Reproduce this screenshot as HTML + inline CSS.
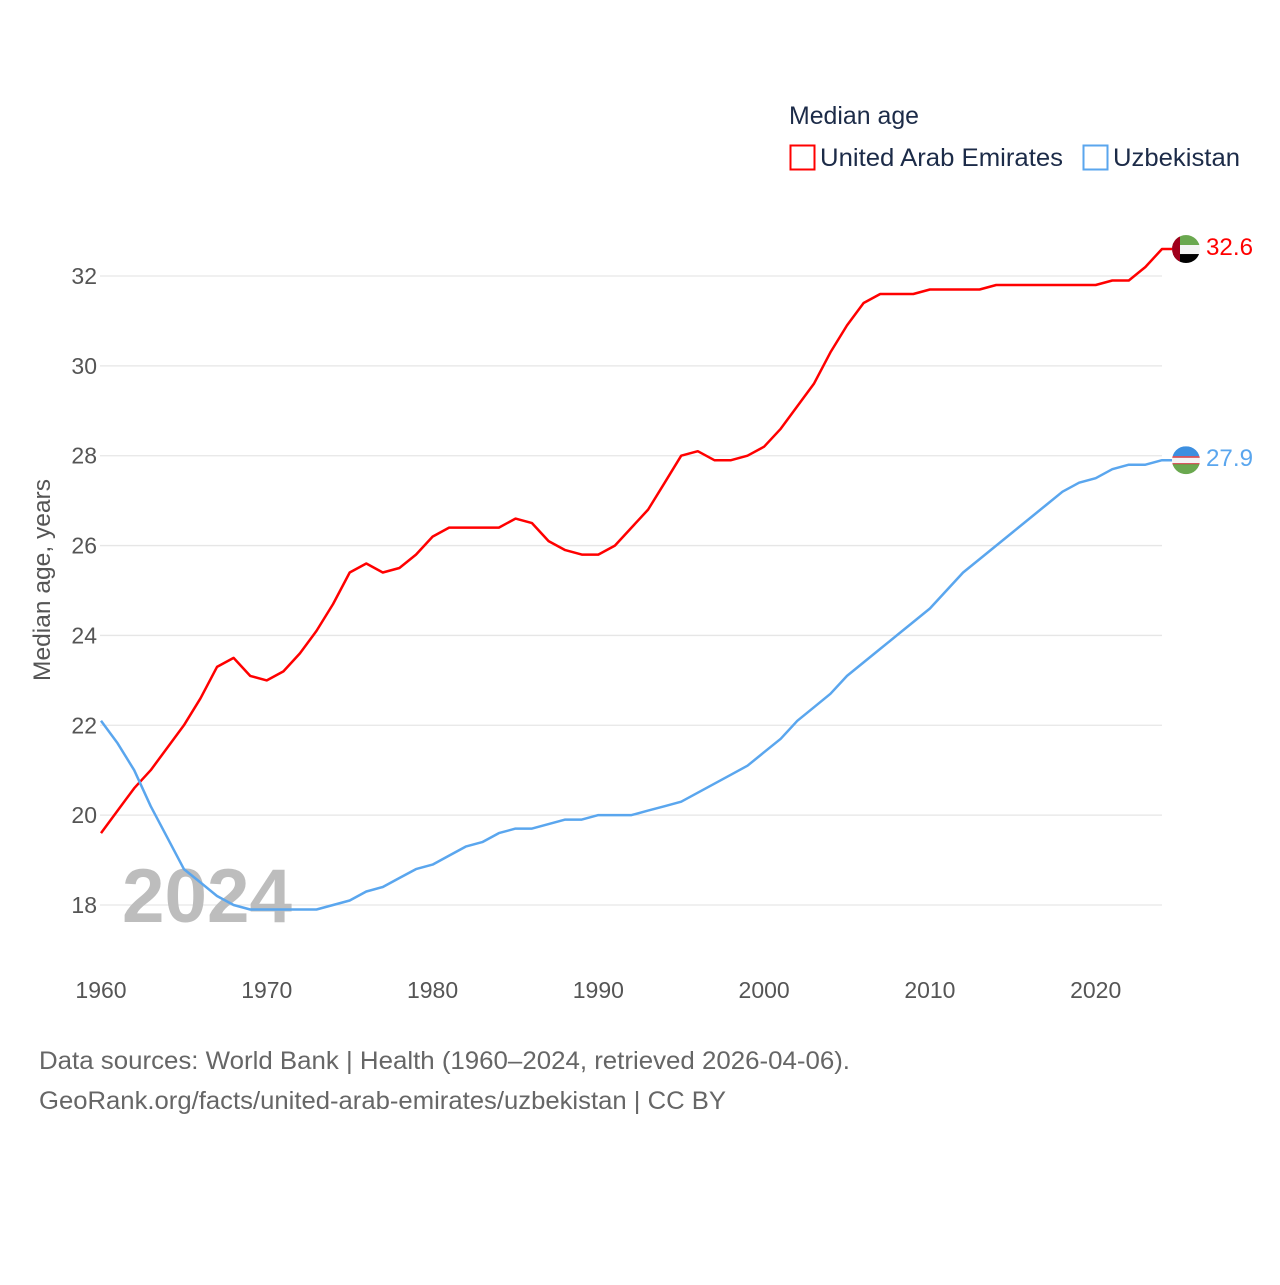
<!DOCTYPE html>
<html><head><meta charset="utf-8"><style>
body{margin:0;background:#fff;width:1280px;height:1280px;overflow:hidden;font-family:"Liberation Sans",sans-serif}
svg text{font-family:"Liberation Sans",sans-serif}
</style></head><body>
<svg id="chart" width="1280" height="1280" xmlns="http://www.w3.org/2000/svg">
<g id="grid"></g>
<g id="yt"></g>
<g id="xt"></g>
<text x="122" y="922" font-size="76" font-weight="bold" fill="#bdbdbd" textLength="170" lengthAdjust="spacingAndGlyphs">2024</text>
<text transform="translate(50,580) rotate(-90)" text-anchor="middle" font-size="24" fill="#555" textLength="202" lengthAdjust="spacingAndGlyphs">Median age, years</text>
<g id="lines"></g>
<g>
<text x="789" y="124" font-size="25" fill="#1c2b48" textLength="130" lengthAdjust="spacingAndGlyphs">Median age</text>
<rect x="790.5" y="145.5" width="24" height="24" fill="none" stroke="#f00" stroke-width="2"/>
<text x="820" y="166" font-size="25" fill="#1c2b48" textLength="243" lengthAdjust="spacingAndGlyphs">United Arab Emirates</text>
<rect x="1083.5" y="145.5" width="24" height="24" fill="none" stroke="#5aa6ee" stroke-width="2"/>
<text x="1113" y="166" font-size="25" fill="#1c2b48" textLength="127" lengthAdjust="spacingAndGlyphs">Uzbekistan</text>
</g>
<text x="39" y="1069" font-size="25" fill="#666" textLength="811" lengthAdjust="spacingAndGlyphs">Data sources: World Bank | Health (1960–2024, retrieved 2026-04-06).</text>
<text x="39" y="1109" font-size="25" fill="#666" textLength="687" lengthAdjust="spacingAndGlyphs">GeoRank.org/facts/united-arab-emirates/uzbekistan | CC BY</text>
</svg>
<script>
const years=[];for(let y=1960;y<=2024;y++)years.push(y);
const uae=[19.6,20.1,20.6,21.0,21.5,22.0,22.6,23.3,23.5,23.1,23.0,23.2,23.6,24.1,24.7,25.4,25.6,25.4,25.5,25.8,26.2,26.4,26.4,26.4,26.4,26.6,26.5,26.1,25.9,25.8,25.8,26.0,26.4,26.8,27.4,28.0,28.1,27.9,27.9,28.0,28.2,28.6,29.1,29.6,30.3,30.9,31.4,31.6,31.6,31.6,31.7,31.7,31.7,31.7,31.8,31.8,31.8,31.8,31.8,31.8,31.8,31.9,31.9,32.2,32.6];
const uzb=[22.1,21.6,21.0,20.2,19.5,18.8,18.5,18.2,18.0,17.9,17.9,17.9,17.9,17.9,18.0,18.1,18.3,18.4,18.6,18.8,18.9,19.1,19.3,19.4,19.6,19.7,19.7,19.8,19.9,19.9,20.0,20.0,20.0,20.1,20.2,20.3,20.5,20.7,20.9,21.1,21.4,21.7,22.1,22.4,22.7,23.1,23.4,23.7,24.0,24.3,24.6,25.0,25.4,25.7,26.0,26.3,26.6,26.9,27.2,27.4,27.5,27.7,27.8,27.8,27.9];
const yTicks=[18,20,22,24,26,28,30,32];
const xTicks=[1960,1970,1980,1990,2000,2010,2020];
const X=v=>101+(v-1960)*(1162-101)/64;
const Y=v=>905-(v-18)*(905-276)/14;
const NS="http://www.w3.org/2000/svg";
function mk(tag,attrs,parent,txt){const e=document.createElementNS(NS,tag);for(const k in attrs)e.setAttribute(k,attrs[k]);if(txt!==undefined)e.textContent=txt;parent.appendChild(e);return e;}
const grid=document.getElementById('grid'),yt=document.getElementById('yt'),xt=document.getElementById('xt'),lines=document.getElementById('lines');
yTicks.forEach(t=>{
 const l=mk('line',{x1:100,x2:1162,y1:Y(t),y2:Y(t),stroke:'#e6e6e6','stroke-width':1.3},grid);
 
 
 const tx=mk('text',{x:97,y:Y(t)+8,'text-anchor':'end','font-size':23,fill:'#555'},yt,String(t));
 
 
});
xTicks.forEach(t=>{
 const tx=mk('text',{x:X(t),y:998,'text-anchor':'middle','font-size':23,fill:'#555'},xt,String(t));
 
 
});
function series(arr,color,name){
 let d=arr.map((v,i)=>(i?'L':'M')+X(years[i]).toFixed(1)+','+Y(v).toFixed(1)).join(' ');
 d+=' L'+(X(2024)+10)+','+Y(arr[arr.length-1]).toFixed(1);
 const p=mk('path',{d:d,fill:'none',stroke:color,'stroke-width':2.5,'stroke-linejoin':'round'},lines);
 
 
 const last=arr[arr.length-1];
 const lb=mk('text',{x:1206,y:Y(last)+6,'font-size':24,fill:color,textLength:47,lengthAdjust:'spacingAndGlyphs'},lines,last.toFixed(1));
 
 
 return Y(last);
}
const yu=series(uae,'#ff0000','uae');
const yz=series(uzb,'#5aa6ee','uzbekistan');
const fu=mk('g',{},lines);


const cp1=mk('clipPath',{id:'c1'},fu);mk('circle',{cx:1186,cy:yu,r:14},cp1);
const gu=mk('g',{'clip-path':'url(#c1)'},fu);
mk('rect',{x:1172,y:yu-14,width:28,height:10,fill:'#6aa84f'},gu);
mk('rect',{x:1172,y:yu-4,width:28,height:9,fill:'#f4f4f4'},gu);
mk('rect',{x:1172,y:yu+5,width:28,height:10,fill:'#000'},gu);
mk('rect',{x:1172,y:yu-14,width:8,height:28,fill:'#a0001c'},gu);
const fz=mk('g',{},lines);


const cp=mk('clipPath',{id:'c2'},fz);mk('circle',{cx:1186,cy:yz,r:14},cp);
const gz=mk('g',{'clip-path':'url(#c2)'},fz);
mk('rect',{x:1172,y:yz-14,width:28,height:10,fill:'#3d8fe0'},gz);
mk('rect',{x:1172,y:yz-4,width:28,height:8,fill:'#f4f4f4'},gz);
mk('rect',{x:1172,y:yz-4,width:28,height:1.5,fill:'#d0303a'},gz);
mk('rect',{x:1172,y:yz+3,width:28,height:1.5,fill:'#d0303a'},gz);
mk('rect',{x:1172,y:yz+4,width:28,height:10,fill:'#6aa84f'},gz);
</script>
</body></html>
